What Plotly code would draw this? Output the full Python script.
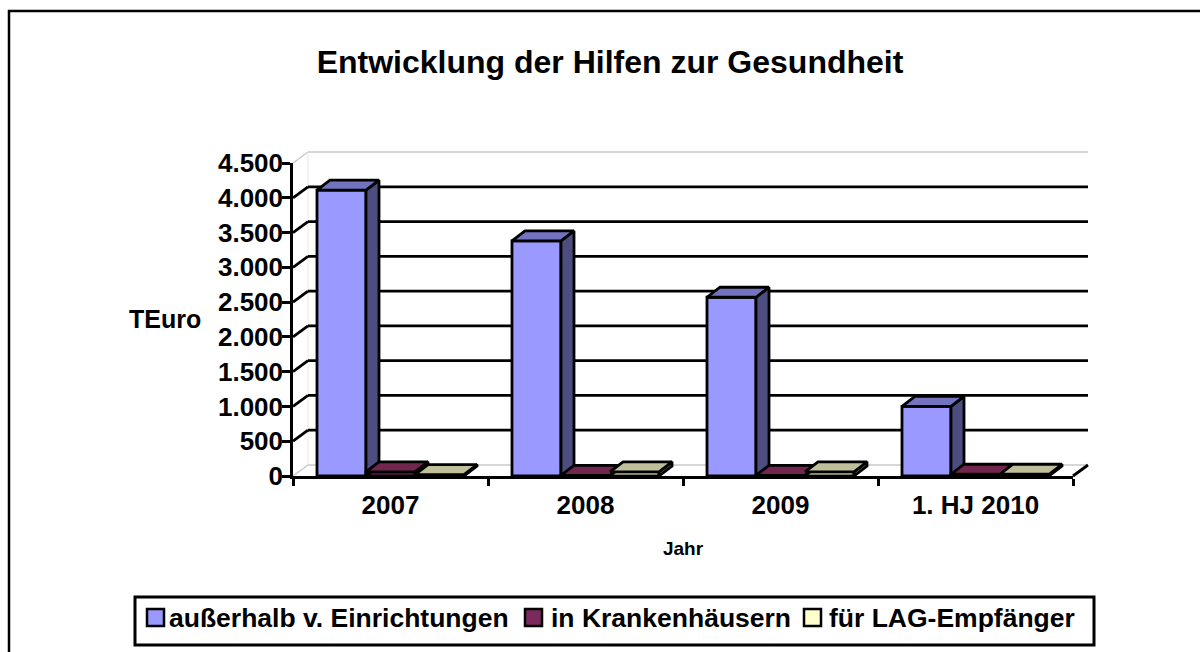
import plotly.graph_objects as go

years = ["2007", "2008", "2009", "1. HJ 2010"]
series_names = ["außerhalb v. Einrichtungen", "in Krankenhäusern", "für LAG-Empfänger"]
ausserhalb = [4110, 3380, 2570, 1000]
krankenhaus = [60, 10, 10, 25]
lag = [20, 60, 60, 25]
grid_values = [500, 1000, 1500, 2000, 2500, 3000, 3500, 4000]
series_values = [ausserhalb, krankenhaus, lag]

FRONT = ["#9999FF", "#7B2A5C", "#FFFFCC"]
TOP = ["#7373BF", "#73264D", "#BFBF99"]
SIDE = ["#4D4D80", "#4D1A33", "#808066"]
W, H = 1200, 652
L, R, T, B = 293, 1073, 163, 476
FF = "Liberation Sans"
YMAX = 4500
XR = [-0.5, 3.5]
px_x = 4 / (R - L)
px_y = YMAX / (B - T)
BAR_DX, BAR_DY = 13 * px_x, 10 * px_y
GAP = 0.246
BW = (1 - GAP) / 3
LW = 2.8
WALL_X = 15 / (R - L)
WALL_Y = 11 / (B - T)

fig = go.Figure()
shapes = []
annos = []


def px(x):
    return (x - L) / (R - L)


def py(y):
    return (B - y) / (B - T)


def wall_line(v, color, width):
    """Slanted edge from the axis to the back wall, then along the back wall, at value v."""
    f = v / YMAX
    # paper coordinates are not clipped to the plot area, which the depth needs
    shapes.append(dict(type="line", xref="paper", yref="paper", x0=0, y0=f, x1=WALL_X, y1=f + WALL_Y,
                       line=dict(color=color, width=width), layer="below"))
    shapes.append(dict(type="line", xref="paper", yref="paper", x0=WALL_X, y0=f + WALL_Y, x1=1 + WALL_X, y1=f + WALL_Y,
                       line=dict(color=color, width=width), layer="below"))


wall_line(YMAX, "#C8C8C8", 1.5)
wall_line(0, "#C8C8C8", 1.5)
shapes.append(dict(type="line", xref="paper", yref="paper", x0=WALL_X, y0=WALL_Y, x1=WALL_X, y1=1 + WALL_Y,
                   line=dict(color="#E8E8E8", width=1), layer="below"))
for v in grid_values:
    wall_line(v, "black", LW)
shapes.append(dict(type="line", xref="paper", yref="paper", x0=1, y0=0, x1=1 + WALL_X, y1=WALL_Y,
                   line=dict(color="black", width=LW), layer="below"))

# front faces: real bars on the category axis
for name, vals, col in zip(series_names, series_values, FRONT):
    fig.add_trace(go.Bar(x=years, y=vals, name=name, xaxis="x2", yaxis="y", cliponaxis=False,
                         marker=dict(color=col, line=dict(color="black", width=LW))))

# depth faces, computed from the same values
for i, (name, vals) in enumerate(zip(series_names, series_values)):
    for c, v in enumerate(vals):
        xl = c + (i - 1) * BW - BW / 2
        xr = xl + BW
        fig.add_trace(go.Scatter(x=[xr, xr + BAR_DX, xr + BAR_DX, xr, xr], y=[0, BAR_DY, v + BAR_DY, v, 0],
                                 mode="lines", fill="toself", fillcolor=SIDE[i], cliponaxis=False,
                                 line=dict(color="black", width=LW), xaxis="x3", yaxis="y",
                                 hoverinfo="skip", showlegend=False))
        fig.add_trace(go.Scatter(x=[xl, xl + BAR_DX, xr + BAR_DX, xr, xl], y=[v, v + BAR_DY, v + BAR_DY, v, v],
                                 mode="lines", fill="toself", fillcolor=TOP[i], cliponaxis=False,
                                 line=dict(color="black", width=LW), xaxis="x3", yaxis="y",
                                 hoverinfo="skip", showlegend=False))


def rect(x0_, y0_, x1_, y1_, fill, lw, lc="black"):
    shapes.append(dict(type="rect", xref="paper", yref="paper", x0=px(x0_), x1=px(x1_), y0=py(y0_), y1=py(y1_),
                       fillcolor=fill, line=dict(color=lc, width=lw), layer="above"))


rect(9, 11, 1230, 690, "rgba(0,0,0,0)", 2.5)
rect(135, 597, 1094, 645, "white", 3)
legend_sw = [147, 525, 804]
legend_tx = [167, 549, 827]
LEG_Y = 618
for name, sx, tx, col in zip(series_names, legend_sw, legend_tx, FRONT):
    rect(sx, LEG_Y - 9, sx + 17, LEG_Y + 8, col, 2.5)
    annos.append(dict(text=name, xref="paper", yref="paper", x=px(tx), y=py(LEG_Y), xanchor="left", yanchor="middle",
                      showarrow=False, font=dict(family=FF, size=26.5, color="black", weight=700)))
annos.append(dict(text="TEuro", xref="paper", yref="paper", x=px(165), y=py(319), xanchor="center", yanchor="middle",
                  showarrow=False, font=dict(family=FF, size=25, color="black", weight=700)))

fig.update_layout(
    width=W, height=H, autosize=False,
    margin=dict(l=L, r=W - R, t=T, b=H - B, pad=0),
    paper_bgcolor="white", plot_bgcolor="rgba(0,0,0,0)",
    separators=",.",
    barmode="group", bargap=GAP, bargroupgap=0,
    showlegend=False,
    title=dict(text="Entwicklung der Hilfen zur Gesundheit", x=610 / W, xanchor="center", y=1 - 62 / H, yanchor="middle",
               font=dict(family=FF, size=32, color="black", weight=700)),
    xaxis=dict(domain=[0, 1], range=XR, visible=False, fixedrange=True),
    xaxis2=dict(overlaying="x", type="category", categoryorder="array", categoryarray=years, range=XR, anchor="y",
                side="bottom", tickson="boundaries", ticks="outside", ticklen=7, tickwidth=2.5, tickcolor="black",
                showline=True, linecolor="black", linewidth=3, showgrid=False, automargin=False, ticklabelstandoff=4,
                tickfont=dict(family=FF, size=26, color="black", weight=700),
                title=dict(text="Jahr", standoff=23, font=dict(family=FF, size=19, color="black", weight=700))),
    xaxis3=dict(overlaying="x", range=XR, visible=False, fixedrange=True, anchor="y"),
    yaxis=dict(range=[0, YMAX], dtick=500, tickformat=",d", ticks="outside", ticklen=8, tickwidth=2.5, tickcolor="black",
               showline=True, linecolor="black", linewidth=2.5, showgrid=False, zeroline=False, automargin=False,
               ticklabelstandoff=-6,
               tickfont=dict(family=FF, size=26, color="black", weight=700)),
    shapes=shapes, annotations=annos,
)
fig.write_html("out.html", config={"displayModeBar": False},
               post_script="document.body.style.margin='0';document.body.style.overflow='hidden';")
